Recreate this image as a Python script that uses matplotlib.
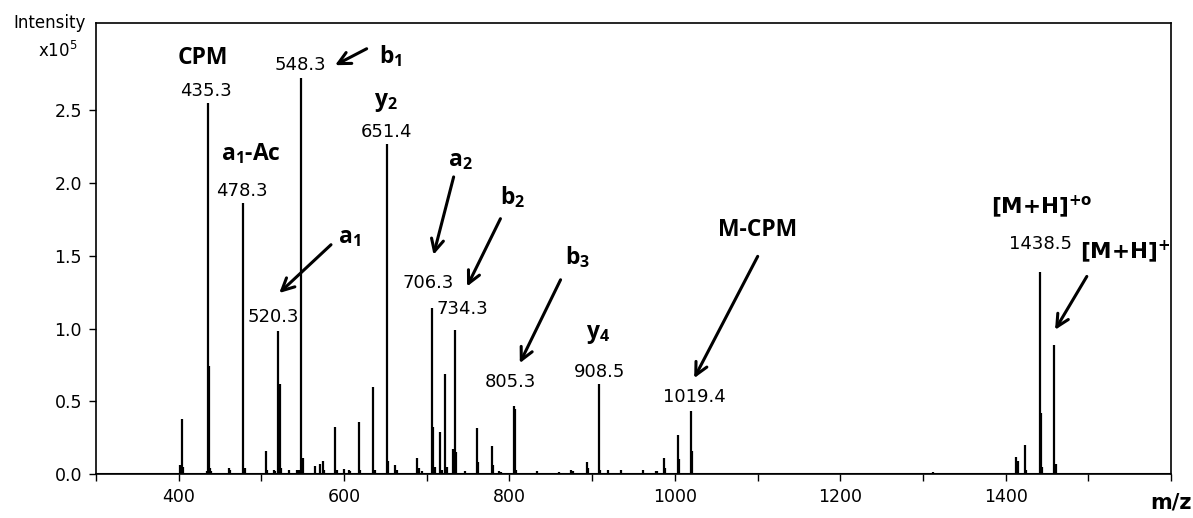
import matplotlib
matplotlib.use('Agg')
import matplotlib.pyplot as plt
import numpy as np

plt.rcParams['font.family'] = ['DejaVu Sans']
plt.rcParams['mathtext.fontset'] = 'custom'
plt.rcParams['mathtext.rm'] = 'Open Sans:bold'
plt.rcParams['mathtext.it'] = 'Open Sans:bold'
plt.rcParams['mathtext.bf'] = 'Open Sans:bold'
plt.rcParams['mathtext.sf'] = 'DejaVu Sans:bold'
plt.rcParams['mathtext.cal'] = 'DejaVu Sans'

# peak list: m/z and intensity (x10^5)
mz = [401.5, 402.5, 404.5, 405.5,
      434.5, 435.3, 436.5, 437.5, 439,
      461, 462, 478.3, 480, 490,
      505.5, 506.5, 515, 517,
      520.3, 522.5, 524, 533, 543, 545.5,
      548.3, 550, 565, 571, 574.5, 576,
      589.5, 591, 599.5, 605.5, 607,
      617.5, 619, 635.5, 637,
      651.4, 653, 662, 663.5,
      671, 688.5, 690, 694, 697,
      706.3, 707.8, 709.5, 716.5, 718,
      722.5, 724, 732, 734.3, 735.8, 746,
      761, 762.5, 778.5, 780, 787, 790,
      805.3, 806.5, 808, 818, 833, 846, 853, 860,
      875, 876.5, 893.5, 895, 908.5, 910,
      919, 935, 942, 950, 961.5, 977.5, 979,
      986.5, 988, 1003.4, 1005, 1019.4, 1021,
      1056, 1312, 1314, 1398,
      1413, 1414.5, 1423, 1424.5,
      1441, 1442.5, 1444, 1459, 1460.5, 1469]
inten = [0.065, 0.06, 0.38, 0.05,
         0.02, 2.55, 0.74, 0.04, 0.02,
         0.04, 0.03, 1.86, 0.04, 0.01,
         0.155, 0.03, 0.025, 0.02,
         0.98, 0.62, 0.04, 0.03, 0.03, 0.03,
         2.72, 0.11, 0.055, 0.07, 0.09, 0.03,
         0.325, 0.03, 0.035, 0.03, 0.02,
         0.355, 0.03, 0.60, 0.03,
         2.27, 0.09, 0.065, 0.03,
         0.01, 0.11, 0.04, 0.02, 0.01,
         1.14, 0.325, 0.05, 0.29, 0.03,
         0.69, 0.05, 0.17, 0.99, 0.15, 0.02,
         0.315, 0.085, 0.19, 0.06, 0.02, 0.015,
         0.47, 0.45, 0.03, 0.01, 0.02, 0.01, 0.01, 0.015,
         0.025, 0.02, 0.08, 0.04, 0.62, 0.03,
         0.025, 0.025, 0.01, 0.01, 0.03, 0.02, 0.02,
         0.11, 0.04, 0.27, 0.10, 0.435, 0.155,
         0.01, 0.015, 0.01, 0.01,
         0.12, 0.09, 0.20, 0.03,
         1.39, 0.42, 0.05, 0.89, 0.07, 0.01]

# m/z value labels
num_text = ['435.3', '478.3', '520.3', '548.3', '651.4', '706.3', '734.3',
            '805.3', '908.5', '1019.4', '1438.5']
num_x = [433.3, 476.4, 514.3, 546.7, 650.9, 701.5, 742.7, 801.2, 909.5, 1023.4, 1441.8]
num_y = [2.634, 1.946, 1.08, 2.81, 2.354, 1.312, 1.136, 0.63, 0.70, 0.527, 1.583]

# ion labels
ion_text = ['CPM', r'a$_1$-Ac', r'b$_1$', r'y$_2$', r'a$_1$', r'a$_2$', r'b$_2$',
            r'b$_3$', r'y$_4$', 'M-CPM']
ion_x = [429.5, 487.6, 655.8, 650.9, 606.1, 740.6, 803.3, 882.1, 906.7, 1100.6]
ion_y = [2.86, 2.20, 2.87, 2.56, 1.63, 2.16, 1.90, 1.49, 0.96, 1.68]

# arrows (tail -> head)
arr_tail = [(627.3, 2.923), (584.2, 1.576), (732.5, 2.042), (789.1, 1.755),
            (861.8, 1.335), (1100.2, 1.496), (1498.2, 1.358)]
arr_head = [(589.1, 2.81), (521.6, 1.244), (708.2, 1.507), (748.7, 1.289),
            (812.5, 0.762), (1023.4, 0.659), (1459.8, 0.991)]

xticks = list(range(300, 1700, 100))
xticklabels = ['' if (t % 200 or t == 1600) else str(t) for t in xticks]
yticks = [0.0, 0.5, 1.0, 1.5, 2.0, 2.5]

fig = plt.figure(figsize=(11.93, 5.18), dpi=100)
ax = fig.add_axes([96/1193, 44/518, 1075/1193, 451/518])

ax.vlines(mz, 0, inten, color='black', lw=1.6)
ax.axhline(0, color='black', lw=1.5)

ax.set_xlim(300, 1600)
ax.set_ylim(0, 3.1)
ax.set_xticks(xticks)
ax.set_xticklabels(xticklabels)
ax.set_yticks(yticks)
ax.set_yticklabels(['%.1f' % v for v in yticks])
ax.tick_params(direction='out', length=5, width=1, labelsize=12.5, pad=5, colors='black')
for s in ax.spines.values():
    s.set_linewidth(1.2)

for t, x, y in zip(num_text, num_x, num_y):
    ax.text(x, y, t, ha='center', va='center', fontsize=13)

for t, x, y in zip(ion_text, ion_x, ion_y):
    ax.text(x, y, t, ha='center', va='center', fontsize=16.5,
            family='Open Sans', fontweight='bold')

ax.text(1444, 1.84, r'[M+H]$^{\mathsf{+o}}$', ha='center', va='center',
        fontsize=15.5, fontweight='bold')
ax.text(1545, 1.53, r'[M+H]$^{\mathsf{+}}$', ha='center', va='center',
        fontsize=15.5, fontweight='bold')

for (tx, ty), (hx, hy) in zip(arr_tail, arr_head):
    ax.annotate('', xy=(hx, hy), xytext=(tx, ty),
                arrowprops=dict(arrowstyle='->', lw=2.2, color='black',
                                mutation_scale=22, shrinkA=0, shrinkB=0))

fig.text(50/1193, 1-23/518, 'Intensity', ha='center', va='center', fontsize=12)
fig.text(57.5/1193, 1-51/518, r'x10$^{\mathcal{5}}$', ha='center', va='center', fontsize=12)
fig.text(1171/1193, 1-503/518, 'm/z', ha='center', va='center', fontsize=15,
         fontweight='bold')

fig.savefig('out.png', dpi=100)
